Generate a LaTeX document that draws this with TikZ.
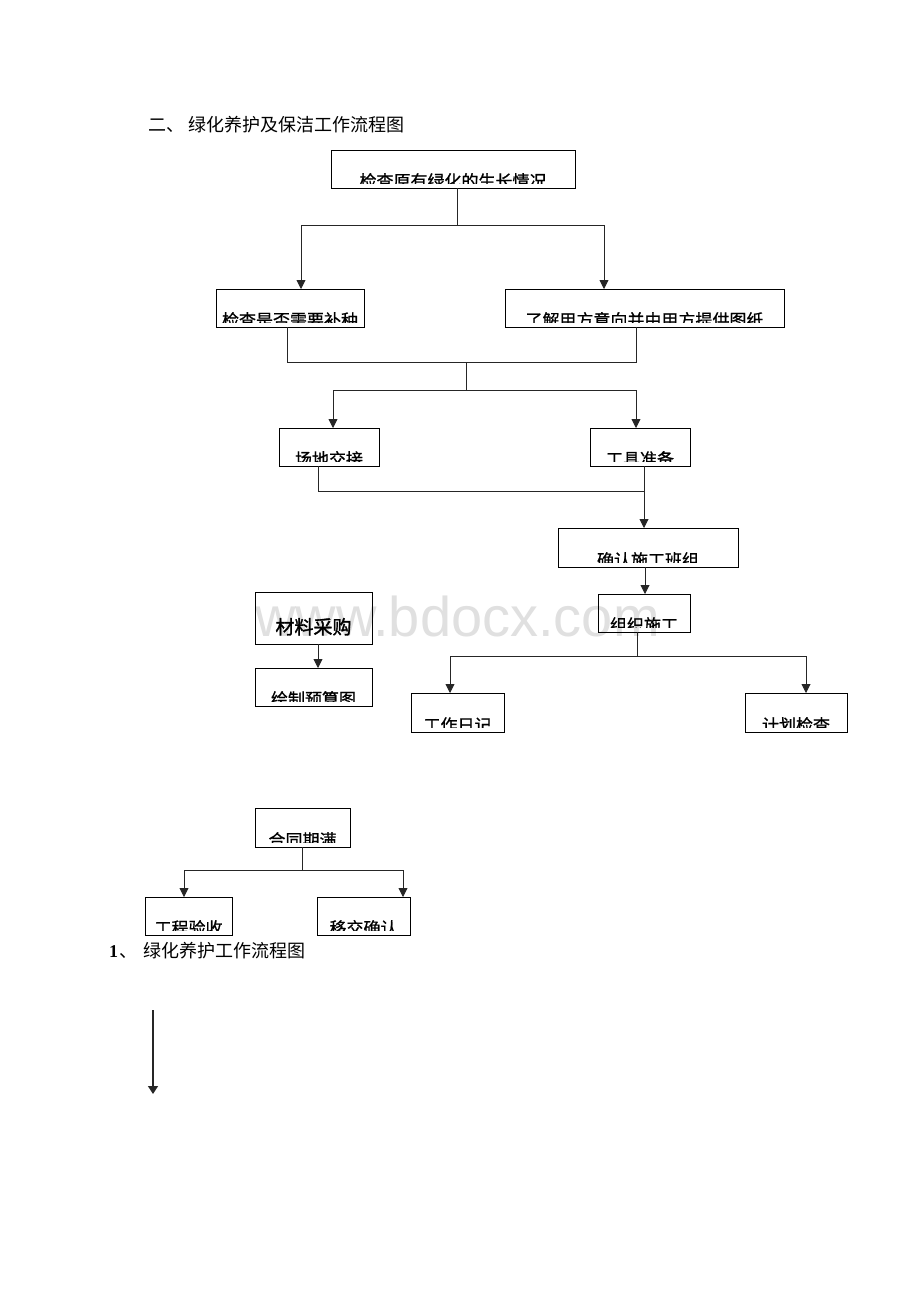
\documentclass[tikz,border=0pt]{standalone}
\usepackage{fontspec}
\setmainfont{Liberation Serif}
\newfontfamily\cjk{Noto Sans CJK SC}
\newfontfamily\cjkmb[FakeBold=0.8]{Noto Sans CJK SC}
\newfontfamily\cjkfb[FakeBold=1.6]{Noto Sans CJK SC}
\newfontfamily\wmfont{Liberation Sans}
\usetikzlibrary{arrows.meta}
\tikzset{
  box/.style={draw=black, line width=1pt, fill=white, inner sep=0pt, outer sep=0pt},
  boxtext/.style={font=\cjkmb\fontsize{17}{17}\selectfont, inner sep=0pt, text=black},
  conn/.style={draw=black!85, line width=0.9pt},
  arr/.style={conn, -{Triangle[width=9pt,length=9pt]}},
  titletext/.style={font=\cjk\fontsize{18}{18}\selectfont, inner sep=0pt, anchor=base west}
}
\newcommand\bx[6]{%
  \node[box, minimum width={#4-#2}, minimum height={#5-#3}, anchor=north west] (#1) at (#2,#3) {};
  \begin{scope}
    \clip ([shift={(1pt,5pt)}]#1.south west) rectangle ([shift={(-1pt,-1pt)}]#1.north east);
    \node[boxtext, anchor=base] (#1t) at ([yshift=0.5pt]#1.south) {#6};
  \end{scope}}
\begin{document}
\begin{tikzpicture}[x=1pt,y=-1pt]
\useasboundingbox[fill=white] (0,0) rectangle (920,1302);

% titles
\node[titletext] (t1a) at (148,131) {二、};
\node[titletext] (t1b) at (188,131) {绿化养护及保洁工作流程图};

% boxes
\bx{a}{331}{150}{575}{188}{检查原有绿化的生长情况}
\bx{b}{216}{289}{364}{327}{检查是否需要补种}
\bx{c}{505}{289}{784}{327}{了解甲方意向并由甲方提供图纸}
\bx{d}{279}{428}{379}{466}{场地交接}
\bx{e}{590}{428}{690}{466}{工具准备}
\bx{f}{558}{528}{738}{567}{确认施工班组}
\bx{g}{598}{594}{690}{632}{组织施工}
\bx{h}{411}{693}{504}{732}{工作日记}
\bx{i}{745}{693}{847}{732}{计划检查}
\node[box, minimum width=117pt, minimum height=52pt, anchor=north west] (m) at (255,592) {};
\node[font=\cjkfb\fontsize{19}{19}\selectfont, inner sep=0pt, anchor=base] (mt) at (313.5,634) {材料采购};
\bx{n}{255}{668}{372}{706}{绘制预算图}
\bx{p}{255}{808}{350}{847}{合同期满}
\bx{q}{145}{897}{232}{935}{工程验收}
\bx{r}{317}{897}{410}{935}{移交确认}

% connectors: top section
\coordinate (j1) at (457,225);
\draw[conn] (a.south -| j1) -- (j1);
\draw[conn] (301,225) -- (604,225);
\draw[arr] (301,225) -- (301,0 |- b.north);
\draw[arr] (604,225) -- (604,0 |- c.north);

\coordinate (j2) at (466,362);
\draw[conn] (287,0 |- b.south) -- (287,362) -- (636,362) -- (636,0 |- c.south);
\coordinate (j3) at (466,390);
\draw[conn] (j2) -- (j3);
\draw[conn] (333,390) -- (636,390);
\draw[arr] (333,390) -- (333,0 |- d.north);
\draw[arr] (636,390) -- (636,0 |- e.north);

\coordinate (j4) at (644,491);
\draw[conn] (318,0 |- d.south) -- (318,491) -- (j4);
\draw[conn] (644,0 |- e.south) -- (j4);
\draw[arr] (j4) -- (644,0 |- f.north);

\draw[arr] (645,0 |- f.south) -- (645,0 |- g.north);

\coordinate (j5) at (637,656);
\draw[conn] (j5 |- g.south) -- (j5);
\draw[conn] (450,656) -- (806,656);
\draw[arr] (450,656) -- (450,0 |- h.north);
\draw[arr] (806,656) -- (806,0 |- i.north);

\draw[arr] (318,0 |- m.south) -- (318,0 |- n.north);

\coordinate (j6) at (302,870);
\draw[conn] (j6 |- p.south) -- (j6);
\draw[conn] (184,870) -- (403,870);
\draw[arr] (184,870) -- (184,0 |- q.north);
\draw[arr] (403,870) -- (403,0 |- r.north);

% bottom heading
\node[inner sep=0pt, anchor=base west, font=\bfseries\fontsize{18}{18}\selectfont] (t2a) at (109,957) {1};
\node[titletext] (t2b) at (119,957) {、};
\node[titletext] (t2c) at (143,957) {绿化养护工作流程图};

% free arrow
\coordinate (s1) at (153,1010);
\coordinate (s2) at (153,1094);
\draw[conn, line width=1.2pt, -{Triangle[width=10pt,length=8pt]}] (s1) -- (s2);

% watermark
\node[inner sep=0pt, anchor=base west, text=black, opacity=0.12, font=\wmfont\fontsize{56}{56}\selectfont] (wm) at (255,636) {www.bdocx.com};
\end{tikzpicture}
\end{document}
